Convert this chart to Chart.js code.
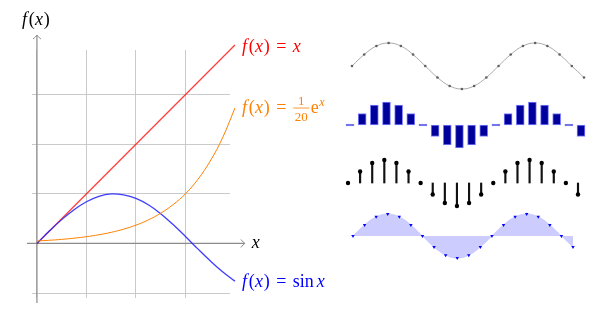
<!DOCTYPE html>
<html>
<head>
<meta charset="utf-8">
<script src="https://cdn.jsdelivr.net/npm/chart.js@4.4.0/dist/chart.umd.min.js"></script>
<style>
  html, body { margin: 0; padding: 0; background: #fff; }
  #wrap { position: relative; width: 600px; height: 315px; overflow: hidden; }
  canvas { position: absolute; }
</style>
</head>
<body>
<div id="wrap">
  <canvas id="main" width="340" height="315" style="left:0;top:0"></canvas>
  <canvas id="wave1" width="244" height="58" style="left:346px;top:37px"></canvas>
  <canvas id="wave2" width="251" height="66" style="left:340px;top:92px"></canvas>
  <canvas id="wave3" width="250" height="66" style="left:338px;top:150px"></canvas>
  <canvas id="wave4" width="240" height="64" style="left:343px;top:204px"></canvas>
</div>
<script>
// left plot: sample points
var xs      = [0, 0.25, 0.5, 0.75, 1, 1.25, 1.5, 1.75, 2, 2.25, 2.5, 2.75, 3, 3.25, 3.5, 3.75, 4];
var sinVals = [0, 0.25, 0.48, 0.68, 0.84, 0.95, 1.0, 0.98, 0.91, 0.78, 0.6, 0.38, 0.14, -0.11, -0.35, -0.57, -0.76];
var expVals = [0.05, 0.064, 0.082, 0.106, 0.136, 0.175, 0.224, 0.288, 0.369, 0.474, 0.609, 0.782, 1.0, 1.29, 1.66, 2.13, 2.73];
var idX     = [0, 2, 4];
var idVals  = [0, 2, 4];
var xGrid   = [0, 1, 2, 3];
var yGrid   = [-1, 0, 1, 2, 3];

// right side: the same sampled wave drawn four ways
var waveIdx  = ['0','1','2','3','4','5','6','7','8','9','10','11','12','13','14','15','16','17','18','19'];
var waveVals = [0, 0.5, 0.87, 1, 0.87, 0.5, 0, -0.5, -0.87, -1, -0.87, -0.5, 0, 0.5, 0.87, 1, 0.87, 0.5, 0, -0.5];

Chart.defaults.animation = false;
Chart.defaults.responsive = false;
Chart.defaults.devicePixelRatio = 1;
Chart.defaults.plugins.legend.display = false;
Chart.defaults.plugins.tooltip.enabled = false;

function pts(a, b) {
    return a.map(function(v, i) { return {x: v, y: b[i]}; });
}

var SERIF = '"Liberation Serif", "DejaVu Serif", serif';
var FS = 18;

function setFont(ctx, italic, size) {
    ctx.font = (italic ? 'italic ' : '') + size + 'px ' + SERIF;
}

// formula laid out left to right; piece = [text, italic, gapBefore, dy, size]
// or {frac: [num, den], gap: n}
function mathText(ctx, x0, base, pieces, color) {
    var x = x0;
    ctx.save();
    ctx.fillStyle = color;
    ctx.strokeStyle = color;
    ctx.textBaseline = 'alphabetic';
    ctx.textAlign = 'left';
    pieces.forEach(function(p) {
        if (p.frac) {
            setFont(ctx, false, 13);
            var wn = ctx.measureText(p.frac[0]).width, wd = ctx.measureText(p.frac[1]).width;
            var w = Math.max(wn, wd) + 3;
            x += p.gap;
            ctx.fillText(p.frac[0], x + (w - wn) / 2, base - 8.5);
            ctx.fillText(p.frac[1], x + (w - wd) / 2, base + 7.5);
            ctx.lineWidth = 0.8;
            ctx.beginPath();
            ctx.moveTo(x, base - 5); ctx.lineTo(x + w, base - 5);
            ctx.stroke();
            x += w;
            return;
        }
        setFont(ctx, p[1], p[4] || FS);
        x += p[2] || 0;
        ctx.fillText(p[0], x, base + (p[3] || 0));
        x += ctx.measureText(p[0]).width;
    });
    ctx.restore();
}

var fx = [['f', true, 0], ['(', false, 1.8], ['x', true, 0.3], [')', false, 0.6]];
var eq = ['=', false, 6.5];

function arrowHead(ctx, x, y, dir) {
    // open curved tip, dir: 'right' or 'up'
    ctx.beginPath();
    if (dir === 'right') {
        ctx.moveTo(x - 4, y - 4); ctx.quadraticCurveTo(x - 1.5, y - 1, x, y);
        ctx.quadraticCurveTo(x - 1.5, y + 1, x - 4, y + 4);
    } else {
        ctx.moveTo(x - 4, y + 4); ctx.quadraticCurveTo(x - 1, y + 1.5, x, y);
        ctx.quadraticCurveTo(x + 1, y + 1.5, x + 4, y + 4);
    }
    ctx.stroke();
}

var axesPlugin = {
    id: 'axesPlugin',
    beforeDatasetsDraw: function(chart) {
        var ctx = chart.ctx, sx = chart.scales.x, sy = chart.scales.y;
        var x0 = sx.getPixelForValue(0), y0 = sy.getPixelForValue(0);
        ctx.save();
        ctx.strokeStyle = '#8c8c8c';
        ctx.lineWidth = 1.2;
        ctx.beginPath();
        ctx.moveTo(sx.getPixelForValue(-0.2), y0); ctx.lineTo(sx.getPixelForValue(4.2), y0);
        ctx.moveTo(x0, sy.getPixelForValue(-1.2)); ctx.lineTo(x0, sy.getPixelForValue(4.2));
        ctx.stroke();
        ctx.lineWidth = 1;
        arrowHead(ctx, sx.getPixelForValue(4.2), y0, 'right');
        arrowHead(ctx, x0, sy.getPixelForValue(4.2), 'up');
        ctx.restore();
    },
    afterDatasetsDraw: function(chart) {
        var ctx = chart.ctx, sx = chart.scales.x, sy = chart.scales.y;
        var lx = sx.getPixelForValue(4) + 7;
        mathText(ctx, 22, 25, fx, '#000');
        mathText(ctx, sx.getPixelForValue(4.2) + 7, sy.getPixelForValue(0) + 5, [['x', true, 0]], '#000');
        mathText(ctx, lx, sy.getPixelForValue(idVals[idVals.length - 1]) + 6.5,
            fx.concat([eq, ['x', true, 6.5]]), '#ff0000');
        mathText(ctx, lx, sy.getPixelForValue(expVals[expVals.length - 1]) + 5,
            fx.concat([eq, {frac: ['1', '20'], gap: 7}, ['e', false, 1.5], ['x', true, 0.5, -7, 12]]), '#ff8000');
        mathText(ctx, lx, sy.getPixelForValue(sinVals[sinVals.length - 1]) + 5.5,
            fx.concat([eq, ['sin', false, 6.5], ['x', true, 3]]), '#0000ff');
    }
};

new Chart(document.getElementById('main'), {
    type: 'line',
    data: {
        datasets: [{
            data: pts(xs, expVals),
            borderColor: '#ff8000', borderWidth: 1, pointRadius: 0, tension: 0.4, clip: false
        }, {
            data: pts(xs, sinVals),
            borderColor: 'rgba(40, 40, 255, 0.9)', borderWidth: 1.3, pointRadius: 0, tension: 0.4, clip: false
        }, {
            data: pts(idX, idVals),
            borderColor: 'rgba(255, 30, 30, 0.85)', borderWidth: 1.3, pointRadius: 0, clip: false
        }]
    },
    options: {
        layout: { padding: { left: 32, right: 110, top: 50, bottom: 17 } },
        scales: {
            x: {
                type: 'linear', min: -0.1, max: 3.9,
                afterBuildTicks: function(s) { s.ticks = xGrid.map(function(v) { return {value: v}; }); },
                ticks: { display: false },
                border: { display: false },
                grid: { color: '#c4c4c4', lineWidth: 0.9, drawTicks: false }
            },
            y: {
                type: 'linear', min: -1.1, max: 3.9,
                afterBuildTicks: function(s) { s.ticks = yGrid.map(function(v) { return {value: v}; }); },
                ticks: { display: false },
                border: { display: false },
                grid: { color: '#c4c4c4', lineWidth: 0.9, drawTicks: false }
            }
        }
    },
    plugins: [axesPlugin]
});

var hiddenScales = {
    x: { type: 'category', display: false, offset: false },
    y: { display: false, min: -1, max: 1 }
};

// row 1: smooth gray line with dots
new Chart(document.getElementById('wave1'), {
    type: 'line',
    data: {
        labels: waveIdx,
        datasets: [{
            data: waveVals,
            borderColor: '#a0a0a0', borderWidth: 0.9, tension: 0.4,
            pointRadius: 1.3, pointBackgroundColor: '#606060', pointBorderWidth: 0, clip: false
        }]
    },
    options: { layout: { padding: 6 }, scales: hiddenScales }
});

// row 2: bars
new Chart(document.getElementById('wave2'), {
    type: 'bar',
    data: {
        labels: waveIdx,
        datasets: [{
            data: waveVals,
            backgroundColor: '#00009a', borderColor: '#8080ff', borderWidth: 1,
            borderSkipped: false, barThickness: 8, minBarLength: 2, clip: false
        }]
    },
    options: { layout: { padding: 10 }, scales: hiddenScales }
});

// row 3: comb (stems + dots)
new Chart(document.getElementById('wave3'), {
    type: 'bar',
    data: {
        labels: waveIdx,
        datasets: [{
            type: 'line', data: waveVals, showLine: false, order: 0,
            pointRadius: 2.2, pointBackgroundColor: '#000', pointBorderWidth: 0, clip: false
        }, {
            data: waveVals, order: 1,
            backgroundColor: '#111', borderWidth: 0, barThickness: 1.5, clip: false
        }]
    },
    options: { layout: { padding: 10 }, scales: hiddenScales }
});

// row 4: filled area with markers
new Chart(document.getElementById('wave4'), {
    type: 'line',
    data: {
        labels: waveIdx,
        datasets: [{
            data: waveVals, fill: 'origin', tension: 0.4,
            backgroundColor: '#ccccff', borderColor: '#bdbdff', borderWidth: 0.6,
            pointStyle: 'triangle', rotation: 180, pointRadius: 2,
            pointBackgroundColor: '#0000ff', pointBorderWidth: 0, clip: false
        }]
    },
    options: { layout: { padding: 10 }, scales: hiddenScales }
});
</script>
</body>
</html>
